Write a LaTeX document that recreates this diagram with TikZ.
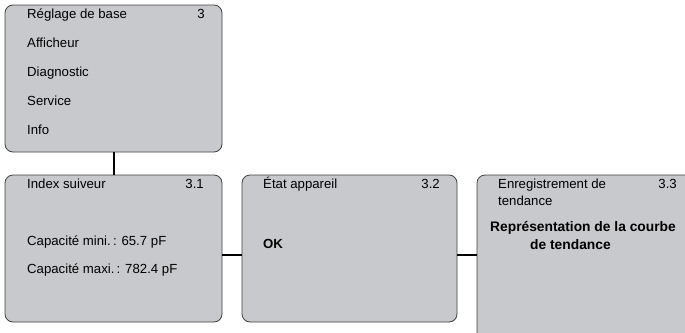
\documentclass[tikz,border=0pt]{standalone}
\usepackage{fontspec}
\setmainfont{Liberation Sans}
\usetikzlibrary{positioning}

\definecolor{screengray}{RGB}{200,201,204}
\definecolor{framegray}{RGB}{65,65,65}

\begin{document}
\begin{tikzpicture}[x=1pt, y=-1pt,
    screen/.style={draw=framegray, fill=screengray, line width=0.8pt, rounded corners=8pt, inner sep=0pt, minimum width=217pt, minimum height=147pt},
    entry/.style={anchor=base west, inner sep=0pt, font=\fontsize{13.2}{15}\selectfont},
    numero/.style={anchor=base east, inner sep=0pt, font=\fontsize{13.2}{15}\selectfont},
    link/.style={line width=2pt}
]
    \useasboundingbox (0,0) rectangle (685,332);
    \clip (0,0) rectangle (685,332);

    \node[screen] (base) at (113.5, 78.5) {};
    \node[screen] (index) at (113.5, 248.5) {};
    \node[screen, minimum width=215pt] (etat) at (349.5, 248.5) {};
    \node[screen, minimum height=170pt] (tend) at (585.5, 260) {};

    \draw[link] (base.south) -- (index.north);
    \draw[link] ([yshift=-6.5pt]index.east) -- ([yshift=-6.5pt]etat.west);
    \draw[link] ([yshift=-6.5pt]etat.east) -- ([yshift=-6.5pt]etat.east -| tend.west);

    \node[entry] (reglage) at (27, 18.5) {Réglage de base};
    \node[numero] (n3) at (205, 18.5) {3};
    \node[entry] (afficheur) at (27, 47.5) {Afficheur};
    \node[entry] (diagnostic) at (27, 76.5) {Diagnostic};
    \node[entry] (service) at (27, 105.5) {Service};
    \node[entry] (info) at (27, 134.5) {Info};

    \node[entry] (suiveur) at (27, 188.5) {Index suiveur};
    \node[numero] (n31) at (204, 188.5) {3.1};
    \node[entry] (capmin) at (27, 245) {Capacité mini.\,: 65.7 pF};
    \node[entry] (capmax) at (27, 273.5) {Capacité maxi.\,: 782.4 pF};

    \node[entry] (appareil) at (263, 188.5) {État appareil};
    \node[numero] (n32) at (440, 188.5) {3.2};
    \node[entry, font=\fontsize{13.2}{15}\selectfont\bfseries] (ok) at (263, 248) {OK};

    \node[entry] (enreg) at (498, 188.5) {Enregistrement de};
    \node[entry] (enreg2) at (498, 205) {tendance};
    \node[numero] (n33) at (677, 188.5) {3.3};
    \node[entry, font=\fontsize{13.8}{16}\selectfont\bfseries] (courbe) at (490, 231) {Représentation de la courbe};
    \node[entry, font=\fontsize{13.8}{16}\selectfont\bfseries] (courbe2) at (530, 249.5) {de tendance};
\end{tikzpicture}
\end{document}
